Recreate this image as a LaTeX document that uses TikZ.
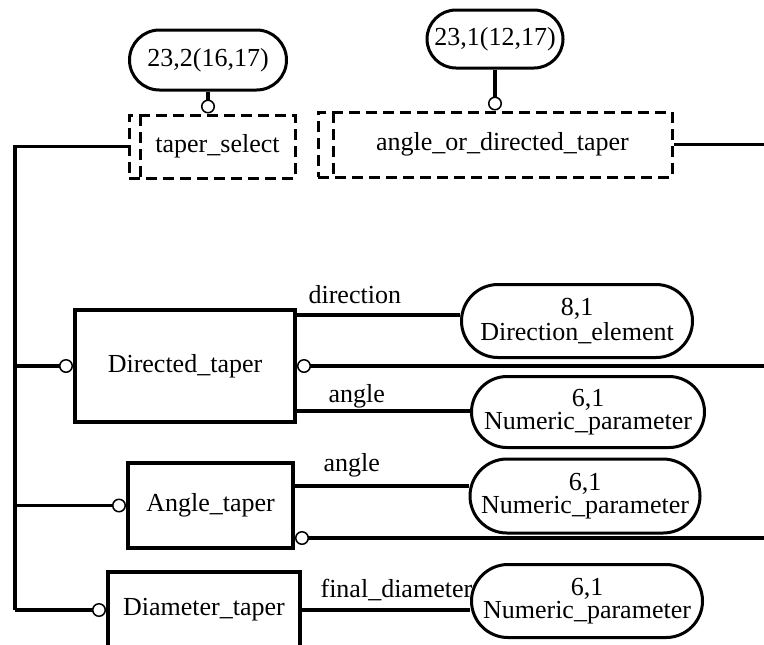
\documentclass[tikz,border=0pt]{standalone}
\usepackage{fontspec}
\setmainfont{LiberationSerif-Regular.ttf}
\usetikzlibrary{arrows.meta, shapes.misc}

\tikzset{
  entity/.style={draw, line width=2pt, inner sep=0pt},
  selbox/.style={draw, line width=1.5pt, dash pattern=on 5.5pt off 3pt, inner sep=0pt,
    path picture={\draw[line width=1.5pt, dash pattern=on 5.5pt off 3pt]
      ([xshift=#1]path picture bounding box.north west) --
      ([xshift=#1]path picture bounding box.south west);}},
  typeref/.style={draw, rounded rectangle, line width=1.5pt, inner sep=0pt, align=center},
  link/.style={line width=1.6pt},
  ring end/.style={-{Circle[open, length=7pt, line width=0.75pt]}},
  ring start/.style={{Circle[open, length=7pt, line width=0.75pt]}-},
  attrlbl/.style={anchor=base west, inner sep=0pt},
}

\begin{document}
\begin{tikzpicture}[x=0.5pt, y=-0.5pt, font=\rmfamily\fontsize{13}{10.5}\selectfont]
  \useasboundingbox (0,0) rectangle (764,644);
  % Select types and their page references
  \node[selbox=5.5pt, minimum width=83pt, minimum height=31.5pt] (tsel) at (212,146.5) {\hspace*{5.5pt}taper\_select};
  \node[selbox=7.5pt, minimum width=177pt, minimum height=32.5pt] (aod) at (495,144.5) {\hspace*{7.5pt}angle\_or\_directed\_taper};
  \node[typeref, minimum width=78.5pt, minimum height=30pt] (o232) at (208,60) {23,2(16,17)};
  \node[typeref, minimum width=68pt, minimum height=29pt] (o231) at (495,39) {23,1(12,17)};
  % Entities
  \node[entity, minimum width=110pt, minimum height=56pt] (dt) at (185,366) {Directed\_taper};
  \node[entity, minimum width=82.5pt, minimum height=42.5pt] (at) at (210.5,505.5) {Angle\_taper};
  \node[entity, minimum width=96pt, minimum height=38pt] (diam) at (204,610) {Diameter\_taper};
  % Referenced types
  \node[typeref, minimum width=115.5pt, minimum height=36.5pt] (de) at (577,321) {8,1\\Direction\_element};
  \node[typeref, minimum width=116.5pt, minimum height=35.5pt] (np1) at (588,412) {6,1\\Numeric\_parameter};
  \node[typeref, minimum width=115pt, minimum height=37pt] (np2) at (585,496) {6,1\\Numeric\_parameter};
  \node[typeref, minimum width=115.5pt, minimum height=36.5pt] (np3) at (587,601) {6,1\\Numeric\_parameter};

  \coordinate (spine) at (15,610);
  \coordinate (rim) at (772,0);
  \coordinate (dtA) at ([yshift=-3.5pt]dt.north east);
  \coordinate (dtB) at ([yshift=6.5pt]dt.south east);
  \coordinate (atA) at ([yshift=-12.5pt]at.north east);
  \coordinate (atB) at ([yshift=6pt]at.south east);

  % Select tree
  \draw[link, ring end] (o232.south) -- (o232.south |- tsel.north);
  \draw[link, ring end] (o231.south) -- (o231.south |- aod.north);
  \draw[link] (tsel.west) -| (spine);
  \draw[link, ring end] (spine |- dt.west) -- (dt.west);
  \draw[link, ring end] (spine |- at.west) -- (at.west);
  \draw[link, ring end] (spine) -- (diam.west);
  % Off-page links
  \draw[link] (aod.east) -- (aod.east -| rim);
  \draw[link, ring start] (dt.east) -- (dt.east -| rim);
  \draw[link, ring start] (atB) -- (atB -| rim);
  % Attributes
  \draw[link] (dtA) -- (dtA -| de.west) node[attrlbl, pos=0, xshift=5pt, yshift=6pt] {direction};
  \draw[link] (dtB) -- (dtB -| np1.west) node[attrlbl, pos=0, xshift=15pt, yshift=4.5pt] {angle};
  \draw[link] (atA) -- (atA -| np2.west) node[attrlbl, pos=0, xshift=13.5pt, yshift=7.5pt] {angle};
  \draw[link] (diam.east) -- (diam.east -| np3.west) node[attrlbl, pos=0, xshift=8.5pt, yshift=6.5pt] {final\_diameter};
\end{tikzpicture}
\end{document}
